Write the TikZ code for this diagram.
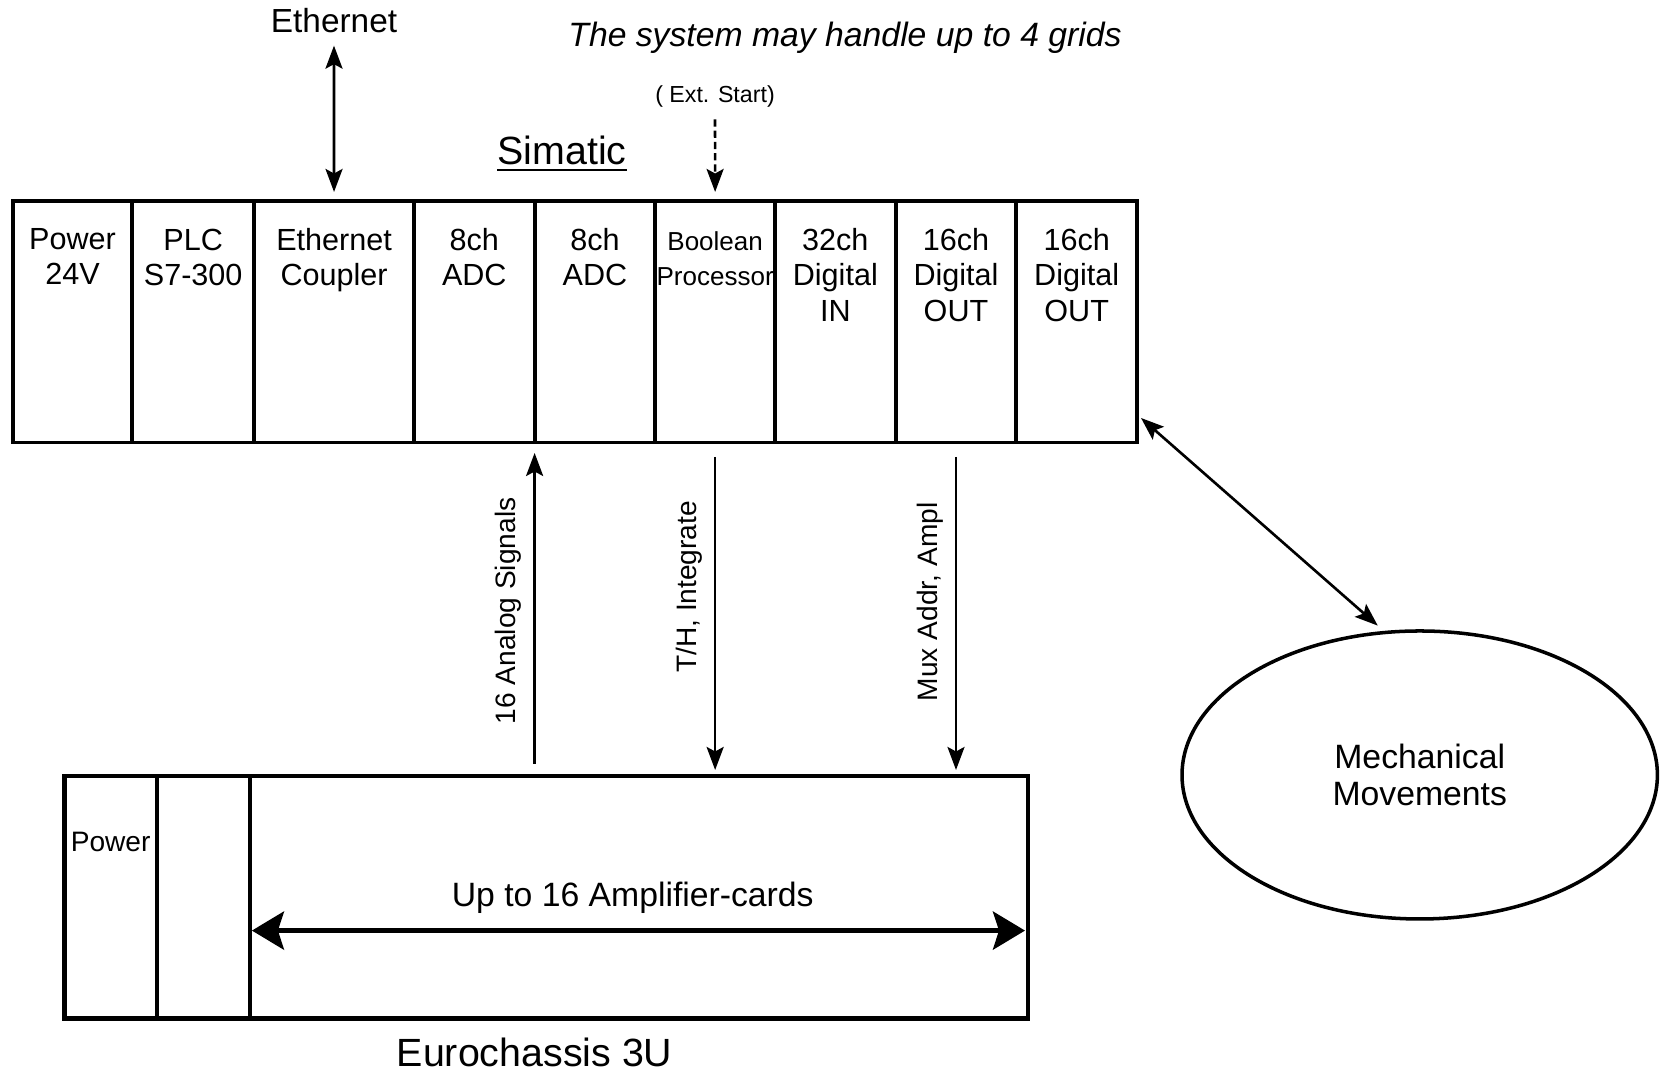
\documentclass[tikz,border=0pt]{standalone}
\usepackage{fontspec}
\setmainfont{Liberation Sans}
\usetikzlibrary{ positioning, % For easy node-relative placements
                 shapes,      % For elipse and so
                 arrows.meta,
               }

\begin{document}
\begin{tikzpicture}[
    >={Stealth[length=2.3mm, width=1.7mm, inset=0.45mm]},
    slot/.style={draw, line width=1.1pt, outer sep=0pt, inner sep=0pt,
                 minimum height=2.415cm, anchor=north west},
    slot_text/.style={anchor=north, inner sep=0pt, align=center, yshift=-0.27cm,
                      font=\fontsize{8.7}{10}\selectfont},
    sig/.style={line width=0.75pt},
    sig_label/.style={rotate=90, anchor=south, font=\fontsize{8}{9.6}\selectfont},
  ]
  \useasboundingbox (0,0) rectangle (16.6,10.69);

  % Simatic rack
  \node[slot, minimum width=1.196cm] (power) at (0.127,8.68) {};
  \node[slot, minimum width=1.218cm, right=0pt of power] (plc) {};
  \node[slot, minimum width=1.599cm, right=0pt of plc] (coupler) {};
  \node[slot, minimum width=1.206cm, right=0pt of coupler] (adc_one) {};
  \node[slot, minimum width=1.207cm, right=0pt of adc_one] (adc_two) {};
  \node[slot, minimum width=1.197cm, right=0pt of adc_two] (boolean) {};
  \node[slot, minimum width=1.207cm, right=0pt of boolean] (din) {};
  \node[slot, minimum width=1.206cm, right=0pt of din] (dout_one) {};
  \node[slot, minimum width=1.207cm, right=0pt of dout_one] (dout_two) {};

  \node[slot_text] (power_t) at (power.north) {Power\\24V};
  \node[slot_text] (plc_t) at (plc.north) {PLC\\S7-300};
  \node[slot_text] (coupler_t) at (coupler.north) {Ethernet\\Coupler};
  \node[slot_text] (adc_one_t) at (adc_one.north) {8ch\\ADC};
  \node[slot_text] (adc_two_t) at (adc_two.north) {8ch\\ADC};
  \node[slot_text, yshift=-0.03cm, font=\fontsize{7.4}{10}\selectfont] (boolean_t) at (boolean.north) {Boolean\\Processor};
  \node[slot_text] (din_t) at (din.north) {32ch\\Digital\\IN};
  \node[slot_text] (dout_one_t) at (dout_one.north) {16ch\\Digital\\OUT};
  \node[slot_text] (dout_two_t) at (dout_two.north) {16ch\\Digital\\OUT};

  \node[font=\fontsize{11.2}{13}\selectfont] (simatic) at (5.62,9.15) {\underline{Simatic}};
  \node[font=\fontsize{9.6}{11}\selectfont\itshape] (grids) at (8.45,10.31) {The system may handle up to 4 grids};
  \node[font=\fontsize{9.5}{11}\selectfont] (ethernet) at (3.34,10.48) {Ethernet};
  \node[font=\fontsize{6.6}{8}\selectfont] (ext_start) at (7.15,9.727) {( Ext. Start)};

  \draw[sig, <->, shorten >=0.09cm] (ethernet) -- (coupler.north);
  \draw[sig, ->, dash pattern=on 2pt off 1.2pt, shorten >=0.09cm] (ext_start) -- (boolean.north);

  % Eurochassis
  \node[slot, line width=1.2pt, minimum height=2.425cm, minimum width=0.921cm] (e_power) at (0.646,2.93) {};
  \node[slot, line width=1.2pt, minimum height=2.425cm, minimum width=0.932cm, right=0pt of e_power] (e_blank) {};
  \node[slot, line width=1.2pt, minimum height=2.425cm, minimum width=7.781cm, right=0pt of e_blank] (cards) {};
  \node[anchor=north, inner sep=0pt, font=\fontsize{8}{9.6}\selectfont] (e_power_t) at ([yshift=-0.557cm]e_power.north) {Power};
  \node[inner sep=0pt, font=\fontsize{11.2}{13}\selectfont] (eurochassis) at (5.346,0.17) {Eurochassis 3U};

  \draw[line width=1.4pt, {Stealth[length=3.2mm, width=3.8mm, inset=0.6mm]}-{Stealth[length=3.2mm, width=3.8mm, inset=0.6mm]},
        shorten <=0.02cm, shorten >=0.03cm]
    ([yshift=-1.546cm]cards.north west) -- ([yshift=-1.546cm]cards.north east)
    node[pos=0.492, above=0.03cm, font=\fontsize{9.6}{11}\selectfont] {Up to 16 Amplifier-cards};

  % signals between the crates
  \draw[sig, ->, shorten <=0.12cm, shorten >=0.105cm] (adc_two.south west |- cards.north) -- (adc_two.south west)
    node[sig_label, pos=0.495] {16 Analog Signals};
  \draw[sig, ->, shorten <=0.145cm, shorten >=0.06cm] (boolean.south) -- (boolean.south |- cards.north)
    node[sig_label, pos=0.433] {T/H, Integrate};
  \draw[sig, ->, shorten <=0.145cm, shorten >=0.06cm] (dout_one.south) -- (dout_one.south |- cards.north)
    node[sig_label, pos=0.478] {Mux Addr, Ampl};

  \node[draw, ellipse, line width=1pt, minimum width=4.754cm, minimum height=2.88cm, align=center,
        font=\fontsize{9.6}{10.5}\selectfont] (mech) at (14.197,2.94) {Mechanical\\Movements};
  \draw[sig, <->, shorten >=0.08cm] ([xshift=0.04cm, yshift=0.245cm]dout_two.south east) -- (mech.104);

\end{tikzpicture}
\end{document}
